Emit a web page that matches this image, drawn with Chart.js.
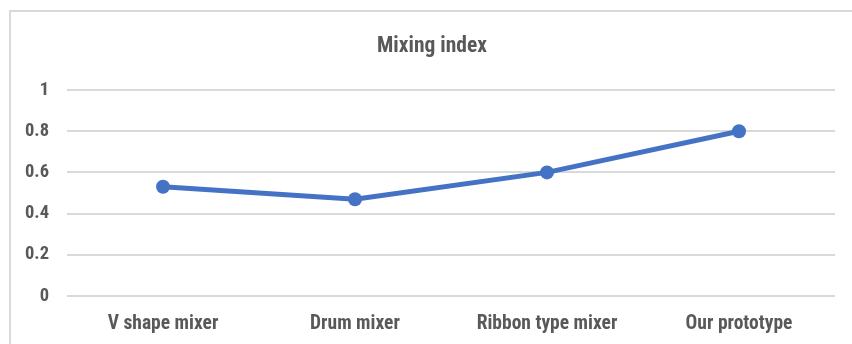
<!DOCTYPE html>
<html>
<head>
<meta charset="utf-8">
<script src="https://cdn.jsdelivr.net/npm/chart.js@4"></script>
<style>
  html, body { margin: 0; padding: 0; background: #ffffff; }
  #wrap { position: relative; width: 852px; height: 344px; overflow: hidden; }
  #frame { position: absolute; left: 9px; top: 10px; width: 900px; height: 400px;
           border: 2px solid #d9d9d9; box-sizing: border-box; }
  #c { position: absolute; left: 10px; top: 0; }
</style>
</head>
<body>
<div id="wrap">
  <div id="frame"></div>
  <canvas id="c" width="844" height="344"></canvas>
</div>
<script>
const categories = ['V shape mixer', 'Drum mixer', 'Ribbon type mixer', 'Our prototype'];
const mixingIndex = [0.53, 0.47, 0.6, 0.8];
const yTickValues = [0, 0.2, 0.4, 0.6, 0.8, 1];
const yTickLabels = ['0', '0.2', '0.4', '0.6', '0.8', '1'];
const chartTitle = 'Mixing index';

const FONT = "'Liberation Sans Narrow', 'Roboto Condensed', Roboto, sans-serif";
const TEXT = '#595959';

// Chart title, centred on the whole bordered panel rather than the plot area
const panelTitle = {
  id: 'panelTitle',
  afterDraw(chart) {
    const ctx = chart.ctx;
    ctx.save();
    ctx.font = `bold 21.5px ${FONT}`;
    ctx.fillStyle = TEXT;
    ctx.textAlign = 'center';
    ctx.textBaseline = 'middle';
    ctx.fillText(chartTitle, 422, 47);
    ctx.restore();
  }
};

new Chart(document.getElementById('c'), {
  type: 'line',
  data: {
    labels: categories,
    datasets: [{
      label: chartTitle,
      data: mixingIndex,
      borderColor: '#4472C4',
      backgroundColor: '#4472C4',
      borderWidth: 5,
      pointRadius: 7,
      pointHoverRadius: 7,
      pointBorderWidth: 0,
      tension: 0,
      fill: false
    }]
  },
  plugins: [panelTitle],
  options: {
    responsive: false,
    animation: false,
    devicePixelRatio: 1,
    layout: { padding: { left: 0, right: 19, top: 90, bottom: 0 } },
    plugins: {
      legend: { display: false },
      tooltip: { enabled: false },
      title: { display: false }
    },
    scales: {
      x: {
        offset: true,
        grid: { display: false },
        border: { display: false },
        ticks: {
          color: TEXT,
          padding: 8,
          maxRotation: 0,
          font: { family: FONT, size: 19.5, weight: 'bold' }
        },
        afterFit(scale) { scale.height = 48; }
      },
      y: {
        min: 0,
        max: 1,
        grid: { color: '#d9d9d9', lineWidth: 2, drawTicks: false },
        border: { display: false },
        afterBuildTicks(scale) {
          scale.ticks = yTickValues.map(v => ({ value: v }));
        },
        ticks: {
          color: TEXT,
          padding: 18,
          font: { family: FONT, size: 18.5, weight: 'bold' },
          callback(value) {
            const i = yTickValues.indexOf(value);
            return i >= 0 ? yTickLabels[i] : '';
          }
        },
        afterFit(scale) { scale.width = 57; }
      }
    }
  }
});
</script>
</body>
</html>
